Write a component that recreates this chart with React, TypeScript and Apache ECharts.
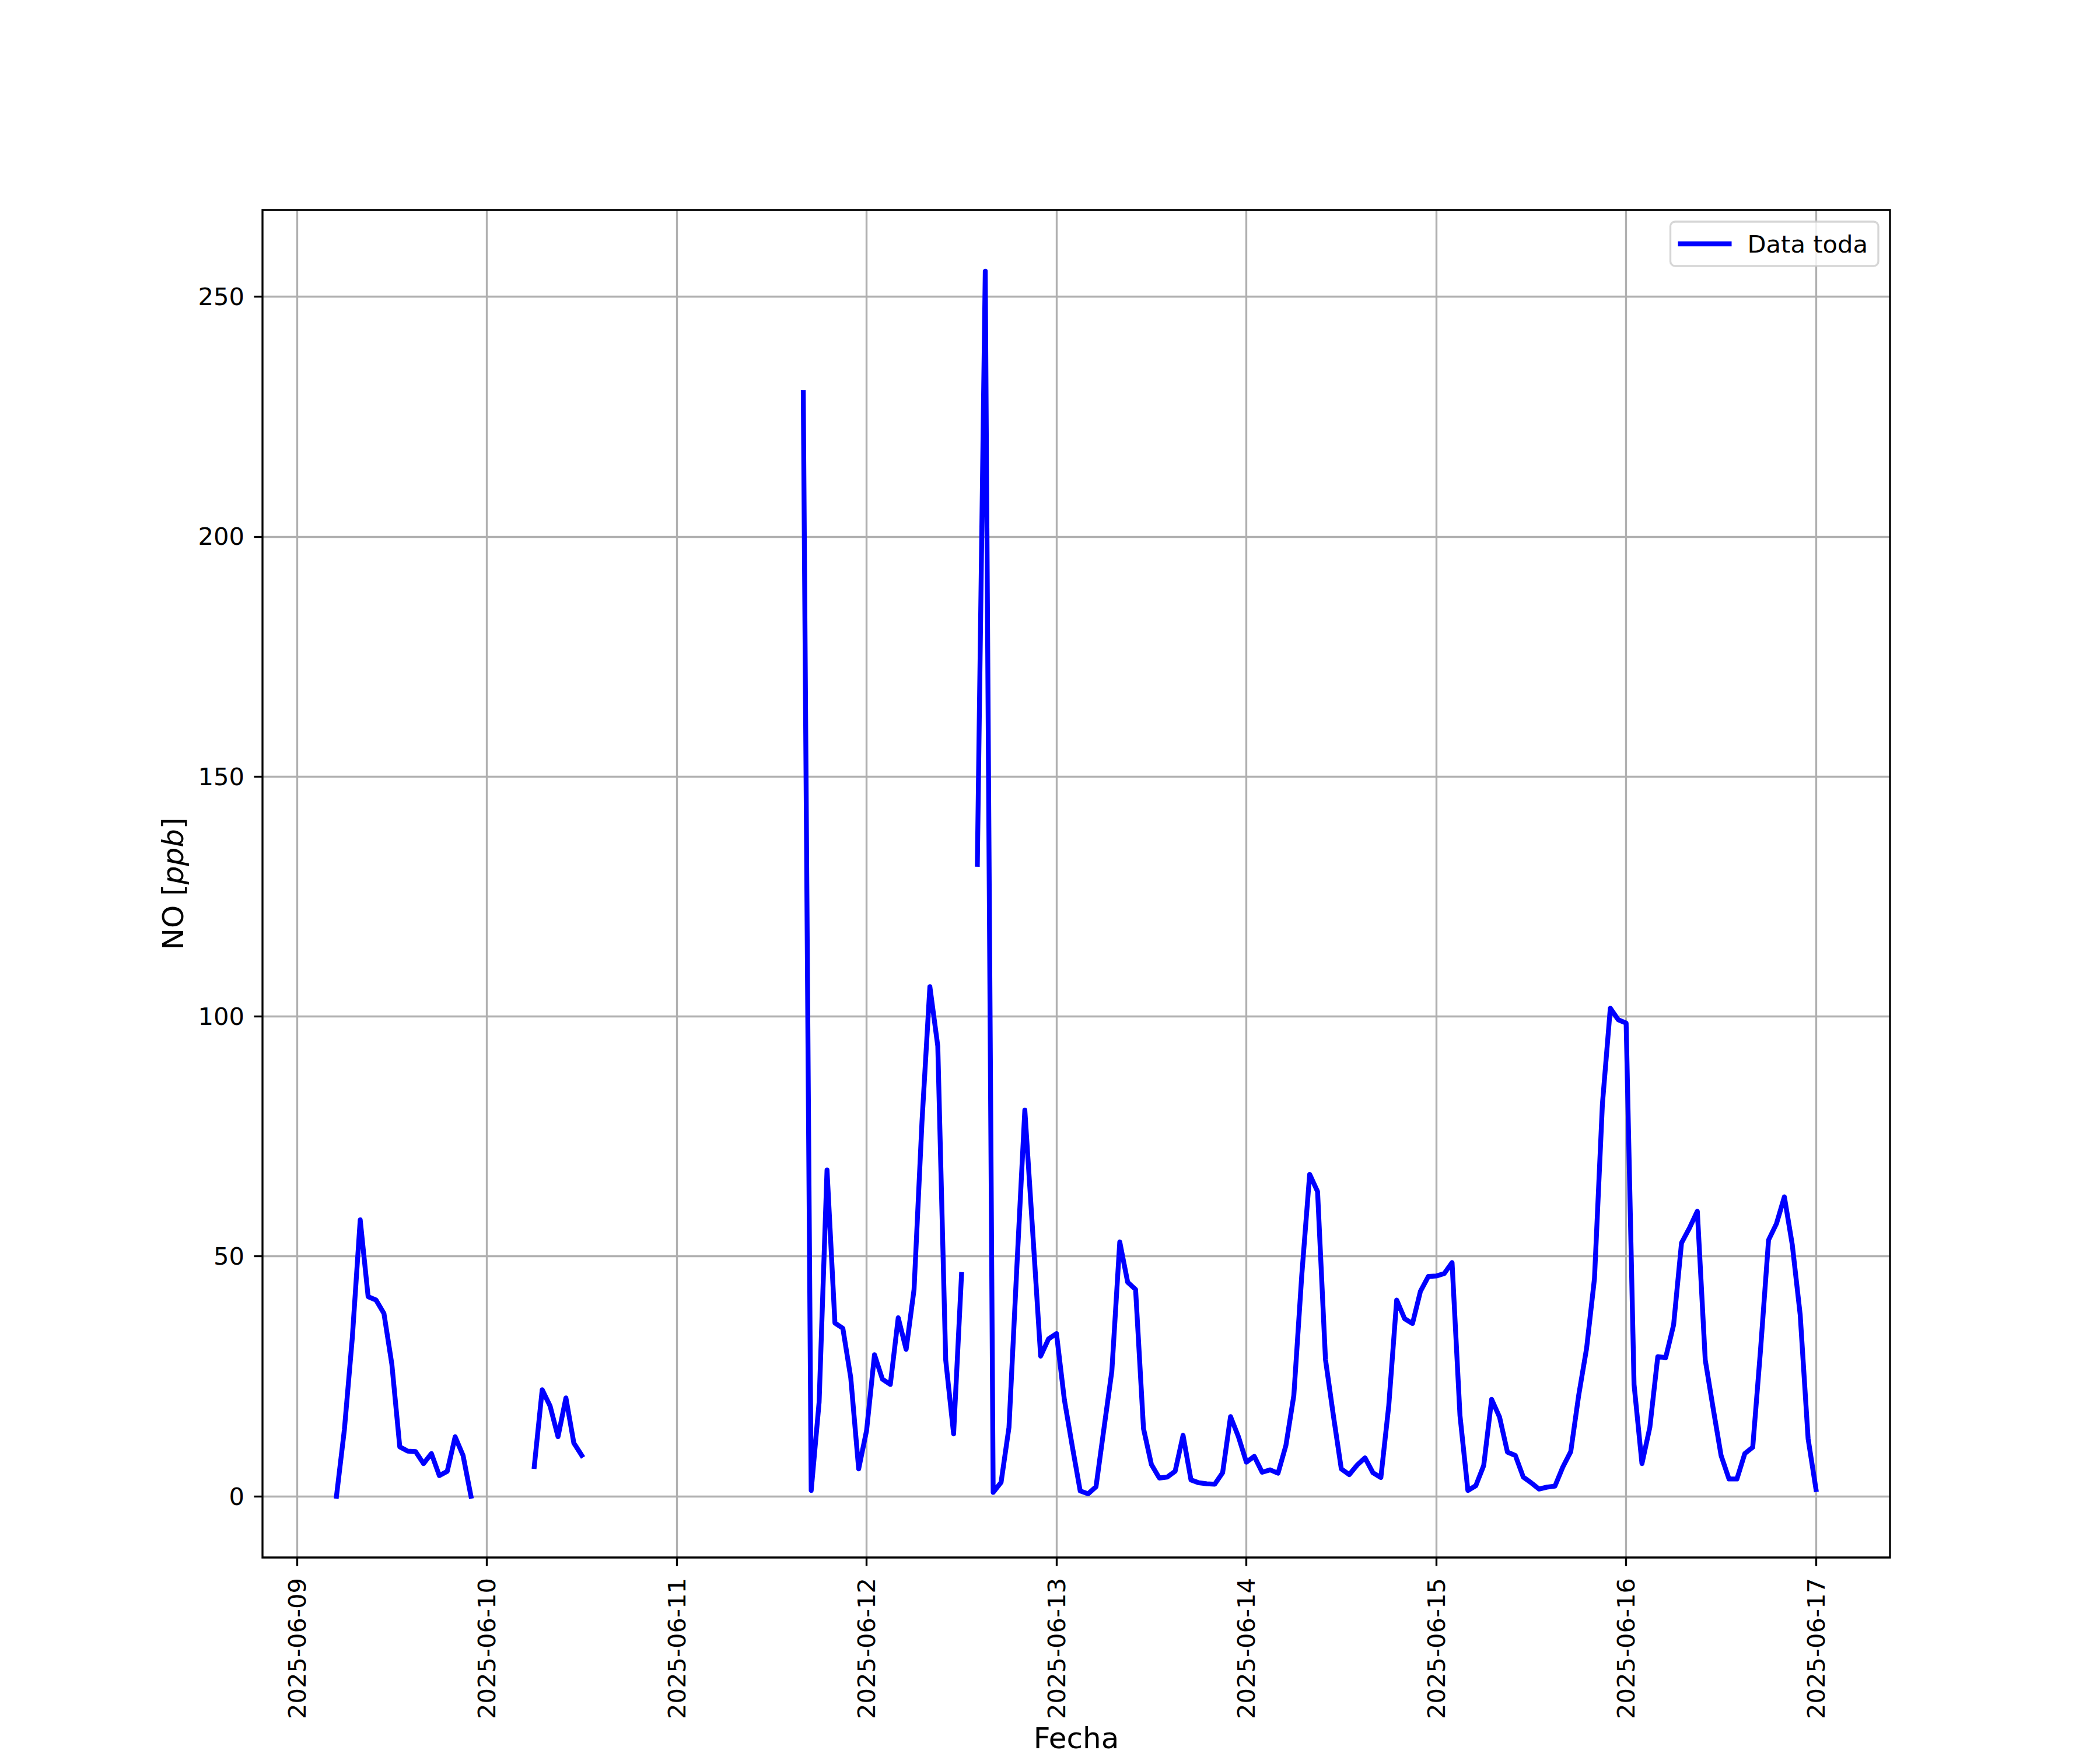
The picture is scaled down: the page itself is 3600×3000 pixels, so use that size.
import React, { useEffect, useRef } from "react";
import * as echarts from "echarts";

// X tick labels (one per day, at midnight)
const dayLabels = [
  "2025-06-09",
  "2025-06-10",
  "2025-06-11",
  "2025-06-12",
  "2025-06-13",
  "2025-06-14",
  "2025-06-15",
  "2025-06-16",
  "2025-06-17",
];
const yTickValues = [0, 50, 100, 150, 200, 250];
const seriesName = "Data toda";

// Hourly NO values [ppb]; each segment starts at the given hour counted from 2025-06-09 00:00
const seg1StartHour = 5; // 2025-06-09 05:00
const seg1Values = [0, 13.9, 33, 57.6, 41.6, 40.9, 38.1, 27.5, 10.3, 9.4, 9.3, 6.8, 8.9, 4.3, 5.2, 12.4, 8.5, 0];

const seg2StartHour = 30; // 2025-06-10 06:00
const seg2Values = [6.2, 22.2, 18.8, 12.4, 20.5, 11.1, 8.5];

const seg3StartHour = 64; // 2025-06-11 16:00
const seg3Values = [
  230, 1.2, 19.6, 68, 36.1, 35.0, 24.7, 5.7, 13.7, 29.5, 24.4, 23.3, 37.2, 30.6, 43.1, 78, 106.2, 93.8, 28.4, 13.0,
  46.2,
];

const seg4StartHour = 86; // 2025-06-12 14:00
const seg4Values = [
  131.7, 255.3, 0.8, 2.9, 14.4, 48, 80.5, 55, 29.2, 32.8,
  33.9, 20.1, 10.4, 1.1, 0.5, 2.0, 14.1, 26.1, 53.0, 44.6,
  43.1, 14.1, 6.6, 3.8, 4.0, 5.2, 12.7, 3.4, 2.8, 2.6,
  2.5, 4.9, 16.6, 12.4, 7.1, 8.3, 5.0, 5.5, 4.8, 10.6,
  21.0, 46, 67.1, 63.5, 28.5, 16.8, 5.7, 4.5, 6.5, 8.0,
  4.9, 3.9, 18.9, 40.9, 37.0, 36.0, 42.7, 45.8, 45.9, 46.4,
  48.7, 16.8, 1.2, 2.2, 6.4, 20.2, 16.5, 9.2, 8.5, 4.0,
  2.8, 1.5, 1.9, 2.1, 6.1, 9.3, 21.0, 30.8, 45.4, 81.7,
  101.7, 99.3, 98.6, 23.3, 6.8, 14.4, 29.1, 28.9, 35.7, 52.8,
  55.9, 59.4, 28.4, 18.3, 8.5, 3.6, 3.6, 8.9, 10.2, 30.8,
  53.4, 56.8, 62.4, 52.4, 37.8, 12.0, 1.4,
];

const segments: [number, number[]][] = [
  [seg1StartHour, seg1Values],
  [seg2StartHour, seg2Values],
  [seg3StartHour, seg3Values],
  [seg4StartHour, seg4Values],
];

const FONT = "DejaVu Sans";
const PT = 300 / 72; // figure rendered at 300 dpi

export default function App() {
  const ref = useRef<HTMLDivElement>(null);

  useEffect(() => {
    if (!ref.current) return;
    const chart = echarts.init(ref.current, null, { renderer: "svg", width: 3600, height: 3000 });

    // Points with x in days since 2025-06-09 00:00; null breaks between segments
    const data: (number | null)[][] = [];
    segments.forEach(([start, vals], si) => {
      vals.forEach((v, i) => data.push([(start + i) / 24, v]));
      if (si < segments.length - 1) data.push([(start + vals.length) / 24, null]);
    });
    const pts = data.filter((d) => d[1] !== null) as number[][];
    const xs = pts.map((d) => d[0]);
    const ys = pts.map((d) => d[1]);
    const xLo = Math.min(...xs), xHi = Math.max(...xs);
    const yLo = Math.min(...ys), yHi = Math.max(...ys);
    const xPad = (xHi - xLo) * 0.05, yPad = (yHi - yLo) * 0.05;

    const gridL = 450, gridT = 360, gridW = 2790, gridH = 2310;
    const tickFont = 10 * PT;
    const labelFont = 12 * PT;
    const thin = 0.8 * PT;

    const option: any = {
      animation: false,
      backgroundColor: "#ffffff",
      grid: {
        left: gridL,
        top: gridT,
        width: gridW,
        height: gridH,
        containLabel: false,
        outerBoundsMode: "none",
      },
      xAxis: {
        type: "value",
        min: xLo - xPad,
        max: xHi + xPad,
        splitNumber: 8,
        name: "Fecha",
        nameLocation: "middle",
        nameGap: 274,
        nameTextStyle: { fontFamily: FONT, fontSize: labelFont, lineHeight: 36, color: "#000" },
        axisLine: { show: false, onZero: false },
        axisTick: {
          show: true,
          customValues: dayLabels.map((_, i) => i),
          length: 3.5 * PT,
          lineStyle: { color: "#000", width: thin },
        },
        axisLabel: {
          customValues: dayLabels.map((_, i) => i),
          formatter: (v: number) => dayLabels[Math.round(v)] ?? "",
          rotate: 90,
          margin: 35,
          fontFamily: FONT,
          fontSize: tickFont,
          color: "#000",
        },
        splitLine: { show: true, lineStyle: { color: "#b0b0b0", width: thin } },
      },
      yAxis: {
        type: "value",
        min: yLo - yPad,
        max: yHi + yPad,
        splitNumber: 5,
        name: "NO [{i|ppb}]",
        nameLocation: "middle",
        nameRotate: 90,
        nameGap: 128,
        nameTextStyle: {
          fontFamily: FONT,
          fontSize: labelFont,
          color: "#000",
          rich: { i: { fontFamily: FONT, fontSize: labelFont, fontStyle: "italic", color: "#000" } },
        },
        axisLine: { show: false, onZero: false },
        axisTick: {
          show: true,
          customValues: yTickValues,
          length: 3.5 * PT,
          lineStyle: { color: "#000", width: thin },
        },
        axisLabel: {
          customValues: yTickValues,
          margin: 31,
          fontFamily: FONT,
          fontSize: tickFont,
          color: "#000",
        },
        splitLine: { show: true, lineStyle: { color: "#b0b0b0", width: thin } },
      },
      legend: {
        show: true,
        selectedMode: false,
        right: 380,
        top: 380,
        orient: "vertical",
        icon: "rect",
        itemWidth: 92,
        itemHeight: 2 * PT,
        itemGap: 0,
        padding: [17, 18, 17, 13],
        backgroundColor: "rgba(255,255,255,0.8)",
        borderColor: "rgba(204,204,204,0.8)",
        borderWidth: thin,
        borderRadius: 8,
        textStyle: { fontFamily: FONT, fontSize: tickFont, color: "#000", padding: [0, 0, 0, 22] },
        data: [{ name: seriesName, icon: "rect" }],
      },
      series: [
        {
          name: seriesName,
          type: "line",
          data,
          connectNulls: false,
          showSymbol: false,
          symbol: "none",
          color: "#0000ff",
          lineStyle: { color: "#0000ff", width: 2 * PT, cap: "square", join: "round" },
          z: 3,
        },
      ],
      graphic: [
        {
          type: "rect",
          silent: true,
          z: 100,
          shape: { x: gridL, y: gridT, width: gridW, height: gridH },
          style: { fill: "none", stroke: "#000", lineWidth: thin },
        },
      ],
    };

    chart.setOption(option);
    return () => chart.dispose();
  }, []);

  return (
    <div
      ref={ref}
      style={{ position: "absolute", left: 0, top: 0, width: 3600, height: 3000, background: "#fff" }}
    />
  );
}
